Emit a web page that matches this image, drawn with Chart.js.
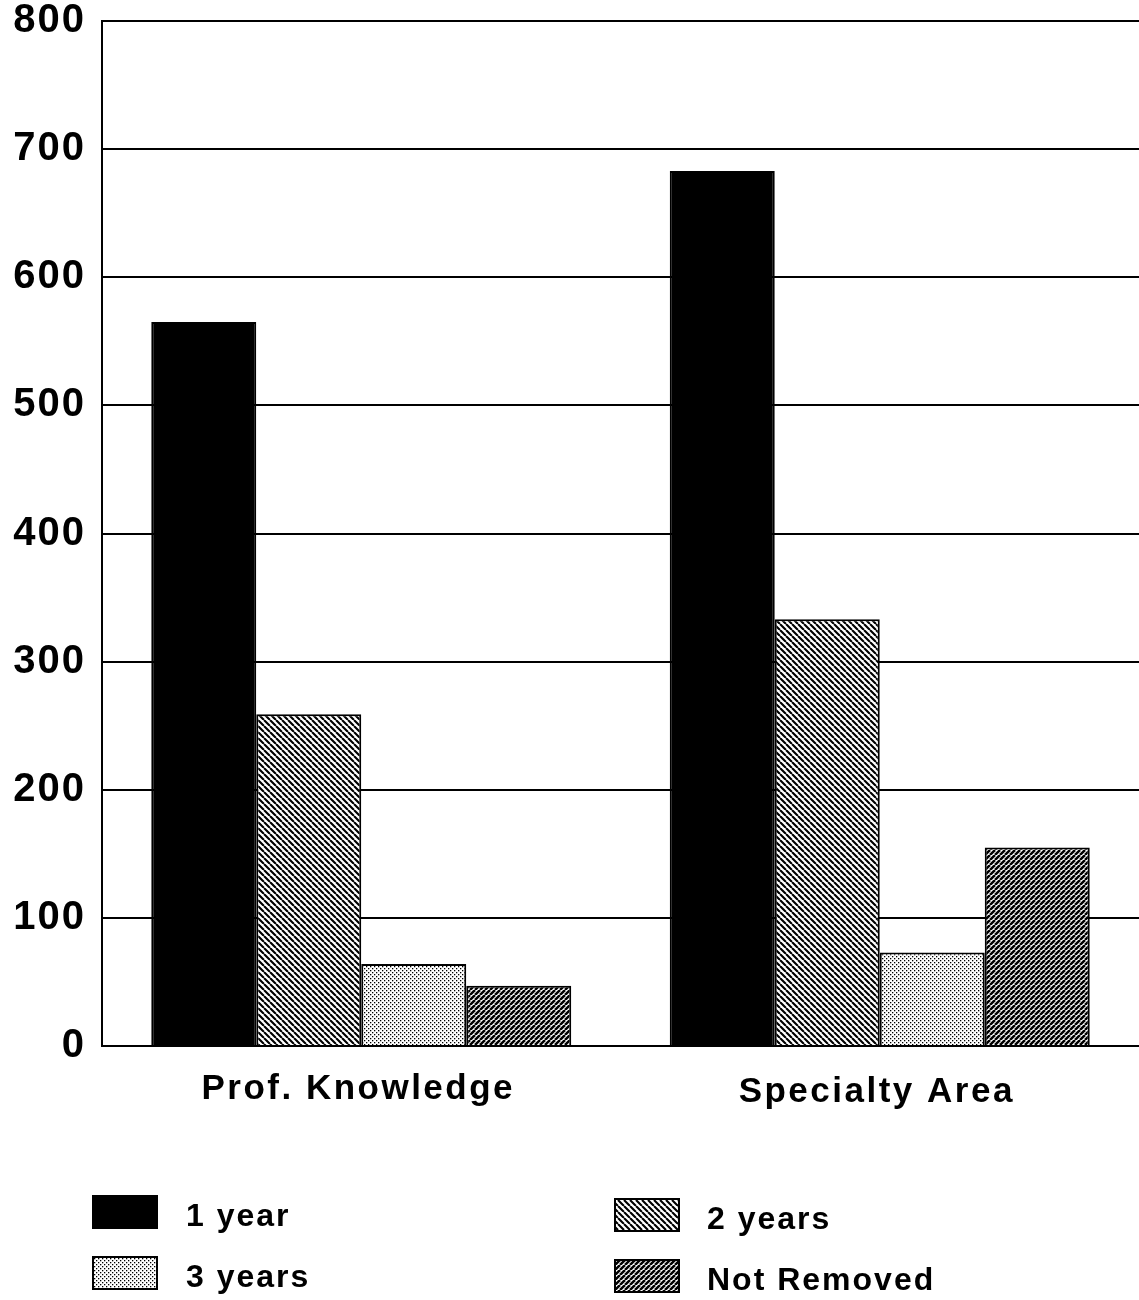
<!DOCTYPE html>
<html>
<head>
<meta charset="utf-8">
<script src="https://cdn.jsdelivr.net/npm/chart.js@4"></script>
<style>
html,body{margin:0;padding:0;background:#fff;}
#wrap{width:1139px;height:1300px;position:relative;}
</style>
</head>
<body>
<div id="wrap"><canvas id="c"></canvas></div>
<script>
const categories = ['Prof. Knowledge', 'Specialty Area'];
const seriesNames = ['1 year', '2 years', '3 years', 'Not Removed'];
const oneYear = [565, 683];
const twoYears = [259, 333];
const threeYears = [64, 73];
const notRemoved = [47, 155];
const yMin = 0, yMax = 800, yStep = 100;

function makePattern(kind) {
  const s = kind === 'back' ? 6 : (kind === 'fwd' ? 5 : 4);
  const c = document.createElement('canvas');
  c.width = s; c.height = s;
  const g = c.getContext('2d');
  g.fillStyle = '#fff'; g.fillRect(0, 0, s, s);
  g.fillStyle = '#000'; g.strokeStyle = '#000';
  if (kind === 'dots') {
    g.fillRect(0, 0, 1.3, 1.3);
    g.fillRect(2, 2, 1.3, 1.3);
  } else {
    g.lineWidth = kind === 'back' ? 2.1 : 2.5;
    g.beginPath();
    for (let k = -1; k <= 1; k++) {
      if (kind === 'back') { g.moveTo(k * s, 0); g.lineTo(k * s + s, s); }
      else { g.moveTo(k * s, s); g.lineTo(k * s + s, 0); }
    }
    g.stroke();
  }
  return document.getElementById('c').getContext('2d').createPattern(c, 'repeat');
}
const fills = ['#000', makePattern('back'), makePattern('dots'), makePattern('fwd')];
const seriesData = [oneYear, twoYears, threeYears, notRemoved];

const customDraw = {
  id: 'customDraw',
  beforeUpdate(chart) { chart.ctx.letterSpacing = '2px'; },
  beforeDraw(chart) { chart.ctx.letterSpacing = '2px'; },
  afterDraw(chart) {
    const ctx = chart.ctx;
    const x = chart.scales.x;
    ctx.save();
    ctx.fillStyle = '#000';
    ctx.textAlign = 'center';
    ctx.textBaseline = 'middle';
    ctx.font = 'bold 35px "Liberation Sans", Arial, sans-serif';
    ctx.letterSpacing = '2.5px';
    categories.forEach((lab, i) => {
      ctx.fillText(lab, x.getPixelForValue(i) - 3, 1089 + i * 3);
    });
    // legend
    const pos = [[93, 1196, 186], [615, 1199, 707], [93, 1257, 186], [615, 1260, 707]];
    ctx.font = 'bold 32px "Liberation Sans", Arial, sans-serif';
    ctx.letterSpacing = '2px';
    ctx.textAlign = 'left';
    [0, 1, 2, 3].forEach((si, k) => {
      const [bx, by, tx] = pos[k];
      ctx.fillStyle = fills[si];
      ctx.fillRect(bx, by, 64, 32);
      ctx.lineWidth = 2;
      ctx.strokeStyle = '#000';
      ctx.strokeRect(bx, by, 64, 32);
      ctx.fillStyle = '#000';
      ctx.fillText(seriesNames[si], tx, by + 21);
    });
    ctx.restore();
  }
};

new Chart(document.getElementById('c'), {
  type: 'bar',
  data: {
    labels: categories,
    datasets: seriesNames.map((n, i) => ({
      label: n,
      data: seriesData[i],
      backgroundColor: fills[i],
      borderColor: '#000',
      borderWidth: 2,
      categoryPercentage: 0.81,
      barPercentage: 1.0
    }))
  },
  options: {
    responsive: true,
    maintainAspectRatio: false,
    animation: false,
    devicePixelRatio: 1,
    layout: { padding: { top: 21, right: 0, bottom: 0, left: 0 } },
    plugins: { legend: { display: false }, tooltip: { enabled: false } },
    scales: {
      x: {
        grid: { display: false, drawTicks: false },
        border: { display: false },
        ticks: { display: false },
        afterFit(s) { s.height = 254; s.paddingLeft = 0; s.paddingRight = 0; }
      },
      y: {
        min: yMin, max: yMax,
        ticks: {
          stepSize: yStep,
          color: '#000',
          padding: 16,
          font: { family: '"Liberation Sans", Arial, sans-serif', size: 40, weight: 'bold' }
        },
        grid: { color: '#000', lineWidth: 2, drawTicks: false },
        border: { display: true, color: '#000', width: 2 },
        afterFit(s) { s.width = 102; s.paddingTop = 0; s.paddingBottom = 0; }
      }
    }
  },
  plugins: [customDraw]
});
</script>
</body>
</html>
